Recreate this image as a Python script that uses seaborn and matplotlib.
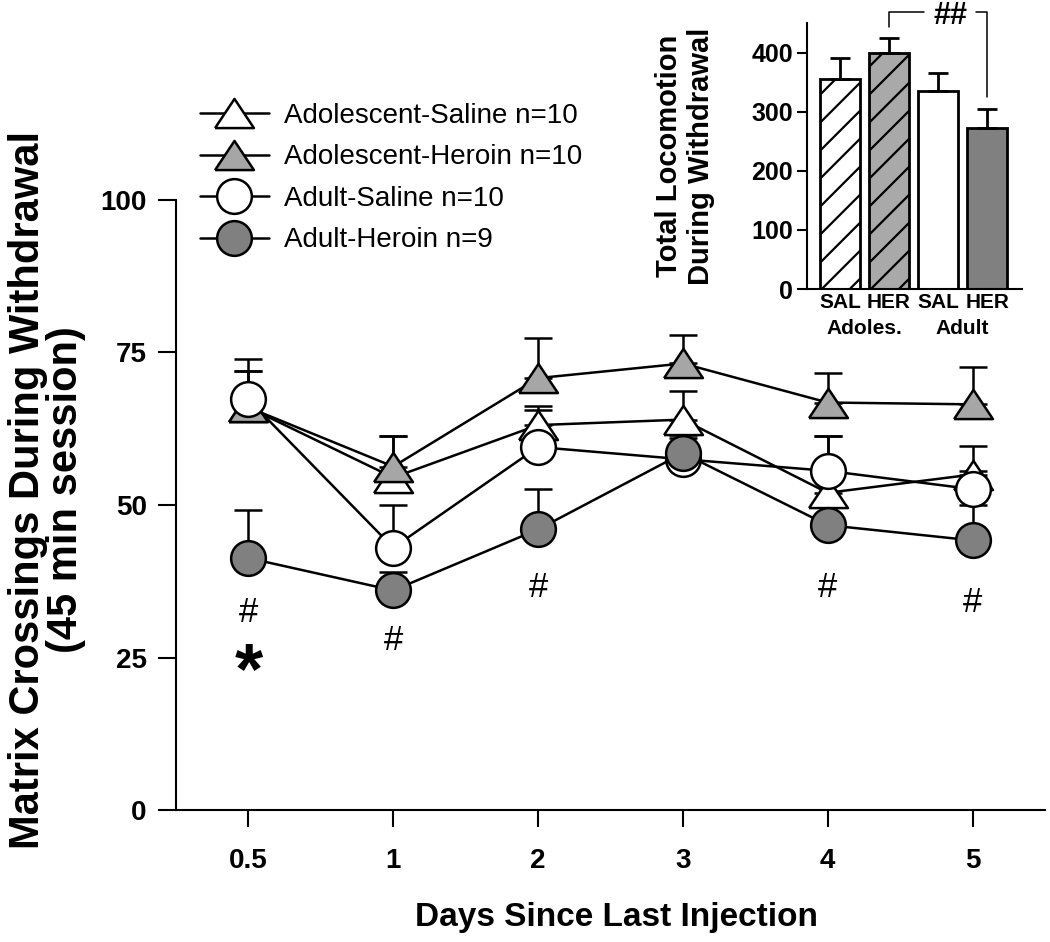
import numpy as np
import matplotlib
matplotlib.use('Agg')
import matplotlib.pyplot as plt
from matplotlib.lines import Line2D
from matplotlib.transforms import IdentityTransform
import seaborn as sns

# --- main panel data ---
DAYS = ['0.5', '1', '2', '3', '4', '5']
GROUPS = ['Adolescent-Saline n=10', 'Adolescent-Heroin n=10',
          'Adult-Saline n=10', 'Adult-Heroin n=9']
ADOL_SAL = [66.0, 54.5, 63.1, 64.0, 52.0, 55.0]
ADOL_SAL_SEM = [8.0, 6.8, 3.2, 4.7, 9.3, 4.7]
ADOL_HER = [66.0, 56.3, 70.8, 73.2, 66.8, 66.5]
ADOL_HER_SEM = [6.0, 5.0, 6.6, 4.7, 4.8, 6.2]
ADULT_SAL = [67.3, 43.0, 59.5, 57.5, 55.6, 52.6]
ADULT_SAL_SEM = [4.7, 7.0, 6.0, 3.5, 5.7, 3.0]
ADULT_HER = [41.3, 36.0, 46.0, 58.5, 46.7, 44.2]
ADULT_HER_SEM = [7.8, 3.0, 6.6, 3.0, 3.0, 5.8]

HASH_DAYS = ['0.5', '1', '2', '4', '5']
HASH_Y = [32.3, 27.8, 36.5, 36.5, 34.0]
STAR_DAY = '0.5'
STAR_Y = 22.3

# --- inset data ---
INSET_CATS = ['Adoles. SAL', 'Adoles. HER', 'Adult SAL', 'Adult HER']
INSET_TICKS = ['SAL', 'HER', 'SAL', 'HER']
INSET_AGES = ['Adoles.', 'Adult']
INSET_VALS = [356, 400, 335, 273]
INSET_SEM = [34, 24, 31, 32]

sns.set_theme(style='white')
plt.rcParams['font.family'] = ['Liberation Sans', 'DejaVu Sans']
plt.rcParams.update({'text.color': 'black', 'axes.labelcolor': 'black',
                     'xtick.color': 'black', 'ytick.color': 'black'})

TRI = [(-1, -0.75), (1, -0.75), (0, 0.75), (-1, -0.75)]
styles = [
    (ADOL_SAL, ADOL_SAL_SEM, TRI, 'white', 28),
    (ADOL_HER, ADOL_HER_SEM, TRI, '#a6a6a6', 28),
    (ADULT_SAL, ADULT_SAL_SEM, 'o', 'white', 25),
    (ADULT_HER, ADULT_HER_SEM, 'o', '#808080', 25),
]

fig = plt.figure(figsize=(10.5, 9.42), dpi=100)
ax = fig.add_axes([0.1676, 0.1401, 0.8276, 0.6476])

pos = np.arange(len(DAYS))
for i, (name, (vals, sem, mk, fc, ms)) in enumerate(zip(GROUPS, styles)):
    ax.errorbar(pos, vals, yerr=[np.zeros(len(sem)), sem], fmt='none',
                ecolor='black', elinewidth=1.8, capsize=10, capthick=1.8,
                zorder=2)
    sns.lineplot(x=pos, y=vals, ax=ax, color='black', lw=1.8, marker=mk,
                 markersize=ms, markerfacecolor=fc, markeredgecolor='black',
                 markeredgewidth=1.8, label=name, zorder=3 + i, legend=False)

for d, yv in zip(HASH_DAYS, HASH_Y):
    ax.text(DAYS.index(d), yv, '#', ha='center', va='center', fontsize=25)
ax.text(DAYS.index(STAR_DAY), STAR_Y, '*', ha='center', va='center',
        fontsize=52, fontweight='bold')

ax.set_xlim(-0.5, 5.5)
ax.set_ylim(0, 100)
ax.set_yticks([0, 25, 50, 75, 100])
ax.set_xticks(pos)
ax.set_xticklabels(DAYS)
sns.despine(ax=ax)
for s in ['left', 'bottom']:
    ax.spines[s].set_linewidth(1.5)
    ax.spines[s].set_color('black')
ax.tick_params(axis='y', direction='out', length=13, width=1.5, pad=8,
               labelsize=20, left=True)
ax.tick_params(axis='x', direction='out', length=12, width=1.5, pad=15,
               labelsize=20, bottom=True)
for lab in ax.get_xticklabels() + ax.get_yticklabels():
    lab.set_fontweight('bold')

ax.set_ylabel('Matrix Crossings During Withdrawal\n(45 min session)',
              fontsize=30, fontweight='bold', linespacing=0.95)
ax.yaxis.set_label_coords(-0.103, 0.525)
ax.set_xlabel('Days Since Last Injection', fontsize=24, fontweight='bold')
ax.xaxis.set_label_coords(0.507, -0.15)

ax.legend(loc='upper left', bbox_to_anchor=(0.19, 0.891),
          bbox_transform=fig.transFigure, frameon=False, fontsize=20,
          handlelength=2.5, handletextpad=0.55, labelspacing=0.56,
          borderpad=0, borderaxespad=0)

# --- inset bar chart ---
axin = fig.add_axes([0.7686, 0.6932, 0.2048, 0.2824])
sns.barplot(x=INSET_CATS, y=INSET_VALS, hue=INSET_CATS,
            palette=['white', '#a9a9a9', 'white', '#808080'], legend=False,
            width=0.82, edgecolor='black', linewidth=2, ax=axin)
axin.errorbar(np.arange(len(INSET_CATS)), INSET_VALS,
              yerr=[np.zeros(len(INSET_SEM)), INSET_SEM], fmt='none',
              ecolor='black', elinewidth=2, capsize=7, capthick=2, zorder=1)
axin.set_xlim(-0.67, 3.71)
axin.set_ylim(0, 450)
axin.set_yticks([0, 100, 200, 300, 400])
axin.set_xticks(np.arange(len(INSET_CATS)))
axin.set_xticklabels(INSET_TICKS)
axin.set_xlabel('')
sns.despine(ax=axin)
for s in ['left', 'bottom']:
    axin.spines[s].set_linewidth(1.5)
    axin.spines[s].set_color('black')
axin.tick_params(axis='y', direction='out', length=7, width=1.5, pad=3,
                 labelsize=18, left=True)
axin.tick_params(axis='x', length=0, pad=3, labelsize=15)
for lab in axin.get_xticklabels() + axin.get_yticklabels():
    lab.set_fontweight('bold')
for k, age in enumerate(INSET_AGES):
    axin.text(2 * k + 0.5, -0.15, age, transform=axin.get_xaxis_transform(),
              ha='center', va='center', fontsize=15, fontweight='bold')
axin.set_ylabel('Total Locomotion\nDuring Withdrawal', fontsize=21,
                fontweight='bold', linespacing=1.15)
axin.yaxis.set_label_coords(-0.43, 0.5)

# significance bracket
axin.plot([1, 1, 1.72], [444, 468, 468], color='black', lw=1.1, clip_on=False)
axin.plot([2.78, 3, 3], [468, 468, 324], color='black', lw=1.1, clip_on=False)
axin.text(2.25, 462, '##', ha='center', va='center', fontsize=22,
          fontweight='bold')

# sparse diagonal hatching on adolescent bars
fig.canvas.draw()
for p in axin.patches[:2]:
    bb = p.get_window_extent()
    step = 28
    for k in range(-int(bb.height / step) - 3, int(bb.width / step) + 3):
        x0 = bb.x0 + k * step
        ln = Line2D([x0, x0 + bb.height + 60], [bb.y0 - 30, bb.y1 + 30],
                    color='black', lw=1.6, transform=IdentityTransform(),
                    zorder=p.get_zorder() + 0.1)
        ln.set_clip_path(p)
        fig.add_artist(ln)

plt.savefig('out.png', dpi=100)
plt.close()
